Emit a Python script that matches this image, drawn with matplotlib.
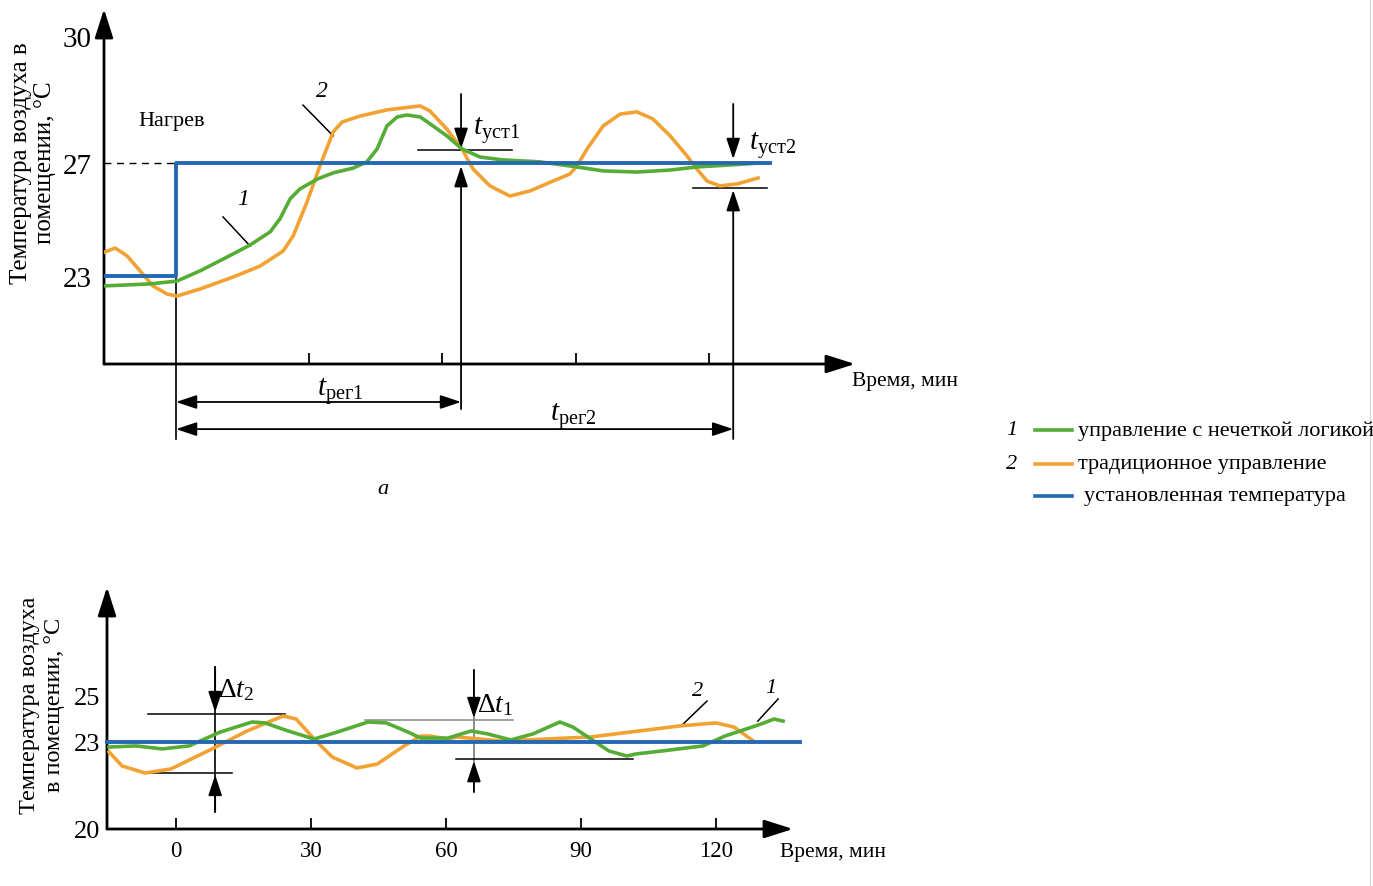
import matplotlib
matplotlib.use("Agg")
import matplotlib.pyplot as plt
from matplotlib.lines import Line2D

plt.rcParams['font.family'] = ['Liberation Serif', 'DejaVu Serif']
plt.rcParams['mathtext.fontset'] = 'custom'
plt.rcParams['mathtext.rm'] = 'Liberation Serif'
plt.rcParams['mathtext.it'] = 'Liberation Serif:italic'

GREEN = '#55ad36'
ORANGE = '#f2a233'
BLUE = '#2468b2'

# ---- panel a: heating from 23 to 27 C  (time, min / temperature, C)
top_t_fuzzy = [-16.0, -5.9, 0.2, 5.4, 11.5, 16.7, 21.2, 23.4, 25.7, 27.9, 31.8, 35.4, 39.9, 43.0,
               45.3, 47.5, 49.8, 52.0, 55.0, 57.9, 61.0, 64.4, 68.5, 73.6, 82.0, 90.3, 96.2,
               103.8, 111.3, 117.3, 124.8, 131.5]
top_T_fuzzy = [22.65, 22.72, 22.82, 23.18, 23.67, 24.10, 24.56, 25.02, 25.73, 26.08, 26.43, 26.65, 26.82, 27.04,
               27.50, 28.31, 28.63, 28.70, 28.63, 28.31, 27.96, 27.50, 27.21, 27.11, 27.04, 26.86, 26.72,
               26.68, 26.75, 26.86, 26.93, 27.0]

top_t_trad = [-16.0, -13.7, -11.0, -8.1, -5.2, -2.0, 0.2, 5.4, 12.8, 18.9, 24.1, 26.4, 29.5, 32.4,
              35.4, 37.4, 41.4, 47.5, 55.0, 57.2, 61.0, 64.4, 66.9, 70.7, 75.2, 79.7, 84.9, 88.7,
              90.3, 92.6, 96.2, 100.0, 103.8, 107.4, 111.3, 115.1, 117.3, 119.6, 122.5, 126.4, 131.1]
top_T_trad = [23.85, 23.99, 23.71, 23.18, 22.65, 22.36, 22.29, 22.54, 22.96, 23.35, 23.88, 24.42, 25.62, 26.89,
              28.10, 28.45, 28.66, 28.88, 29.02, 28.84, 28.20, 27.50, 26.79, 26.19, 25.83, 26.01, 26.36, 26.61,
              26.89, 27.50, 28.31, 28.73, 28.81, 28.56, 27.96, 27.25, 26.79, 26.36, 26.19, 26.26, 26.47]

top_t_set = [-16.2, 0.0, 0.0, 133.8]
top_T_set = [23, 23, 27, 27]

t_reg1 = 64.2
t_reg2 = 125.5

# ---- panel b: holding 23 C
bot_t_fuzzy = [-14.9, -8.9, -3.1, 2.9, 9.8, 16.9, 19.8, 24.9, 30.7, 35.8, 42.7, 46.7, 51.6, 54.4,
               60.4, 65.6, 69.3, 74.4, 79.3, 85.3, 88.2, 92.2, 96.2, 100.2, 102.2, 108.0, 117.1,
               122.0, 130.0, 132.9, 134.9]
bot_T_fuzzy = [22.78, 22.83, 22.70, 22.83, 23.43, 23.87, 23.83, 23.48, 23.13, 23.43, 23.87, 23.83, 23.43, 23.17,
               23.17, 23.48, 23.35, 23.09, 23.35, 23.87, 23.65, 23.13, 22.61, 22.39, 22.48, 22.61, 22.83,
               23.26, 23.78, 24.0, 23.91]

bot_t_trad = [-14.9, -12.0, -6.9, -1.1, 8.0, 15.8, 23.8, 26.7, 30.7, 34.7, 40.2, 44.7, 50.7, 54.4,
              56.4, 60.4, 62.4, 72.4, 92.2, 112.0, 120.0, 124.0, 128.0]
bot_T_trad = [22.57, 21.96, 21.65, 21.83, 22.70, 23.48, 24.13, 24.0, 23.13, 22.35, 21.87, 22.04, 22.83, 23.26,
              23.26, 23.13, 23.22, 23.04, 23.22, 23.70, 23.83, 23.65, 23.09]

bot_t_set = [-15.3, 138.7]
bot_T_set = [23, 23]

bot_xticks = [0, 30, 60, 90, 120]

legend_labels = ['управление с нечеткой логикой', 'традиционное управление', 'установленная температура']

W, H = 1373, 887
fig = plt.figure(figsize=(W / 100, H / 100), dpi=100)


def px_box(l, t, r, b):
    return [l / W, 1 - b / H, (r - l) / W, (b - t) / H]


def arrow(ax, tail, tip, style='-|>', lw=1.3):
    ax.annotate('', xy=tip, xytext=tail, annotation_clip=False,
                arrowprops=dict(arrowstyle=style + ',head_length=0.9,head_width=0.3',
                                mutation_scale=14, lw=lw, color='k',
                                shrinkA=0, shrinkB=0))


def draw_axes_lines(ax):
    for s in ax.spines.values():
        s.set_visible(False)
    for xy in [(1, 0), (0, 1)]:
        ax.annotate('', xy=xy, xytext=(0, 0), xycoords='axes fraction',
                    textcoords='axes fraction', annotation_clip=False,
                    arrowprops=dict(arrowstyle='-|>,head_length=1.1,head_width=0.35',
                                    mutation_scale=16, lw=2, color='k',
                                    shrinkA=0, shrinkB=0))


# ================= top panel =================
X0, SX = 176, 4.44
Y0, SY = 277, 28.25
ax1 = fig.add_axes(px_box(104, 10, 855, 365))
ax1.set_xlim((104 - X0) / SX, (855 - X0) / SX)
ax1.set_ylim(23 - (365 - Y0) / SY, 23 + (Y0 - 10) / SY)
draw_axes_lines(ax1)
ax1.set_xticks([30, 60, 90, 120], [])
ax1.tick_params(axis='x', direction='in', length=8, width=1.3, pad=0)
ax1.set_yticks([23, 27, 31.5], ['23', '27', '30'])
ax1.tick_params(axis='y', length=0, pad=9, labelsize=21)

ax1.plot(top_t_trad, top_T_trad, color=ORANGE, lw=2.6, solid_joinstyle='round', zorder=3)
ax1.plot(top_t_fuzzy, top_T_fuzzy, color=GREEN, lw=2.6, solid_joinstyle='round', zorder=4)
ax1.plot(top_t_set, top_T_set, color=BLUE, lw=2.8, zorder=5)
ax1.plot([ax1.get_xlim()[0], 0], [27, 27], color='k', lw=1, ls=(0, (5, 4)))

# reference verticals and time spans
ax1.plot([0, 0], [27, 17.23], color='k', lw=1.2, zorder=1, clip_on=False)
arrow(ax1, (t_reg1, 18.29), (t_reg1, 26.89))
arrow(ax1, (t_reg1, 29.44), (t_reg1, 27.50))
ax1.plot([54.5, 75.7], [27.46, 27.46], color='k', lw=1.1)
arrow(ax1, (t_reg2, 17.23), (t_reg2, 26.04))
arrow(ax1, (t_reg2, 29.09), (t_reg2, 27.14))
ax1.plot([116.4, 133.1], [26.12, 26.12], color='k', lw=1.1)
arrow(ax1, (0, 18.54), (t_reg1, 18.54), style='<|-|>')
arrow(ax1, (0, 17.58), (t_reg2, 17.58), style='<|-|>')

ax1.text(-8.5, 28.49, 'Нагрев', fontsize=16, va='center', ha='left')
ax1.text(32.9, 29.55, '2', fontsize=17, style='italic', ha='center', va='center')
ax1.plot([28.6, 35.4], [29.05, 27.96], color='k', lw=1.1)
ax1.text(15.1, 25.73, '1', fontsize=17, style='italic', ha='center', va='center')
ax1.plot([10.6, 16.7], [25.09, 24.06], color='k', lw=1.1)
ax1.text(37.0, 18.93, r'$t_{\mathrm{рег1}}$', fontsize=21, ha='center', va='center')
ax1.text(89.4, 18.07, r'$t_{\mathrm{рег2}}$', fontsize=21, ha='center', va='center')
ax1.text(67.0, 28.2, r'$t_{\mathrm{уст1}}$', fontsize=21, ha='left', va='center')
ax1.text(129.0, 27.67, r'$t_{\mathrm{уст2}}$', fontsize=21, ha='left', va='center')

fig.text(852 / W, 1 - 382 / H, 'Время, мин', fontsize=15.5, ha='left', va='center')
fig.text(33 / W, 1 - 163 / H, 'Температура воздуха в\nпомещении, °C', fontsize=18,
         rotation=90, ha='center', va='center', multialignment='center', linespacing=1.1)
fig.text(383 / W, 1 - 490 / H, 'а', fontsize=16, style='italic', ha='center', va='center')

# ================= bottom panel =================
X0b, SXb = 176, 4.5
Y0b, SYb = 743, 23.0
ax2 = fig.add_axes(px_box(107, 588, 793, 830))
ax2.set_xlim((107 - X0b) / SXb, (793 - X0b) / SXb)
ax2.set_ylim(23 - (830 - Y0b) / SYb, 23 + (Y0b - 588) / SYb)
draw_axes_lines(ax2)
ax2.set_xticks(bot_xticks, [str(v) for v in bot_xticks])
ax2.tick_params(axis='x', direction='in', length=8, width=1.3, pad=8, labelsize=16.5)
ax2.set_yticks([19.22, 23, 25], ['20', '23', '25'])
ax2.tick_params(axis='y', length=0, pad=5, labelsize=19)

ax2.plot(bot_t_trad, bot_T_trad, color=ORANGE, lw=2.6, solid_joinstyle='round', zorder=3)
ax2.plot(bot_t_fuzzy, bot_T_fuzzy, color=GREEN, lw=2.6, solid_joinstyle='round', zorder=4)
ax2.plot(bot_t_set, bot_T_set, color=BLUE, lw=2.8, zorder=5, clip_on=False)

# deviation bands
ax2.plot([8.7, 8.7], [26.26, 19.96], color='k', lw=1.2)
arrow(ax2, (8.7, 26.26), (8.7, 24.30))
arrow(ax2, (8.7, 19.96), (8.7, 21.57))
ax2.plot([-6.2, 24.2], [24.22, 24.22], color='k', lw=1.1)
ax2.plot([-6.9, 12.4], [21.65, 21.65], color='k', lw=1.1)
ax2.text(9.3, 25.3, r'$\Delta t_2$', fontsize=20, ha='left', va='center')

ax2.plot([66.2, 66.2], [26.13, 20.83], color='#777777', lw=1.2)
arrow(ax2, (66.2, 26.13), (66.2, 24.04))
arrow(ax2, (66.2, 20.83), (66.2, 22.17))
ax2.plot([42.0, 74.9], [23.96, 23.96], color='#888888', lw=1.1)
ax2.plot([62.2, 101.6], [22.26, 22.26], color='k', lw=1.1)
ax2.text(66.8, 24.65, r'$\Delta t_1$', fontsize=20, ha='left', va='center')

ax2.text(115.8, 25.25, '2', fontsize=16, style='italic', ha='center', va='center')
ax2.plot([118.0, 112.7], [24.78, 23.78], color='k', lw=1.1)
ax2.text(132.2, 25.35, '1', fontsize=16, style='italic', ha='center', va='center')
ax2.plot([133.8, 129.3], [24.87, 23.91], color='k', lw=1.1)

fig.text(780 / W, 1 - 853 / H, 'Время, мин', fontsize=15.5, ha='left', va='center')
fig.text(42 / W, 1 - 705 / H, 'Температура воздуха\nв помещении, °C', fontsize=17.5,
         rotation=90, ha='center', va='center', multialignment='center', linespacing=1.2)

# ================= legend =================
for i, (c, lab, ypx) in enumerate(zip([GREEN, ORANGE, BLUE], legend_labels, [431, 465, 497])):
    yf = 1 - ypx / H
    if i < 2:
        fig.text(1012 / W, yf, str(i + 1), fontsize=16, style='italic', ha='center', va='center')
    fig.add_artist(Line2D([1035 / W, 1072 / W], [yf, yf], color=c, lw=2.6))
    fig.text((1078 if i < 2 else 1084) / W, yf, lab, fontsize=16, ha='left', va='center')

fig.add_artist(Line2D([1370 / W, 1370 / W], [0, 1], color='#d8d8d8', lw=1))

fig.savefig('out.png', dpi=100)
